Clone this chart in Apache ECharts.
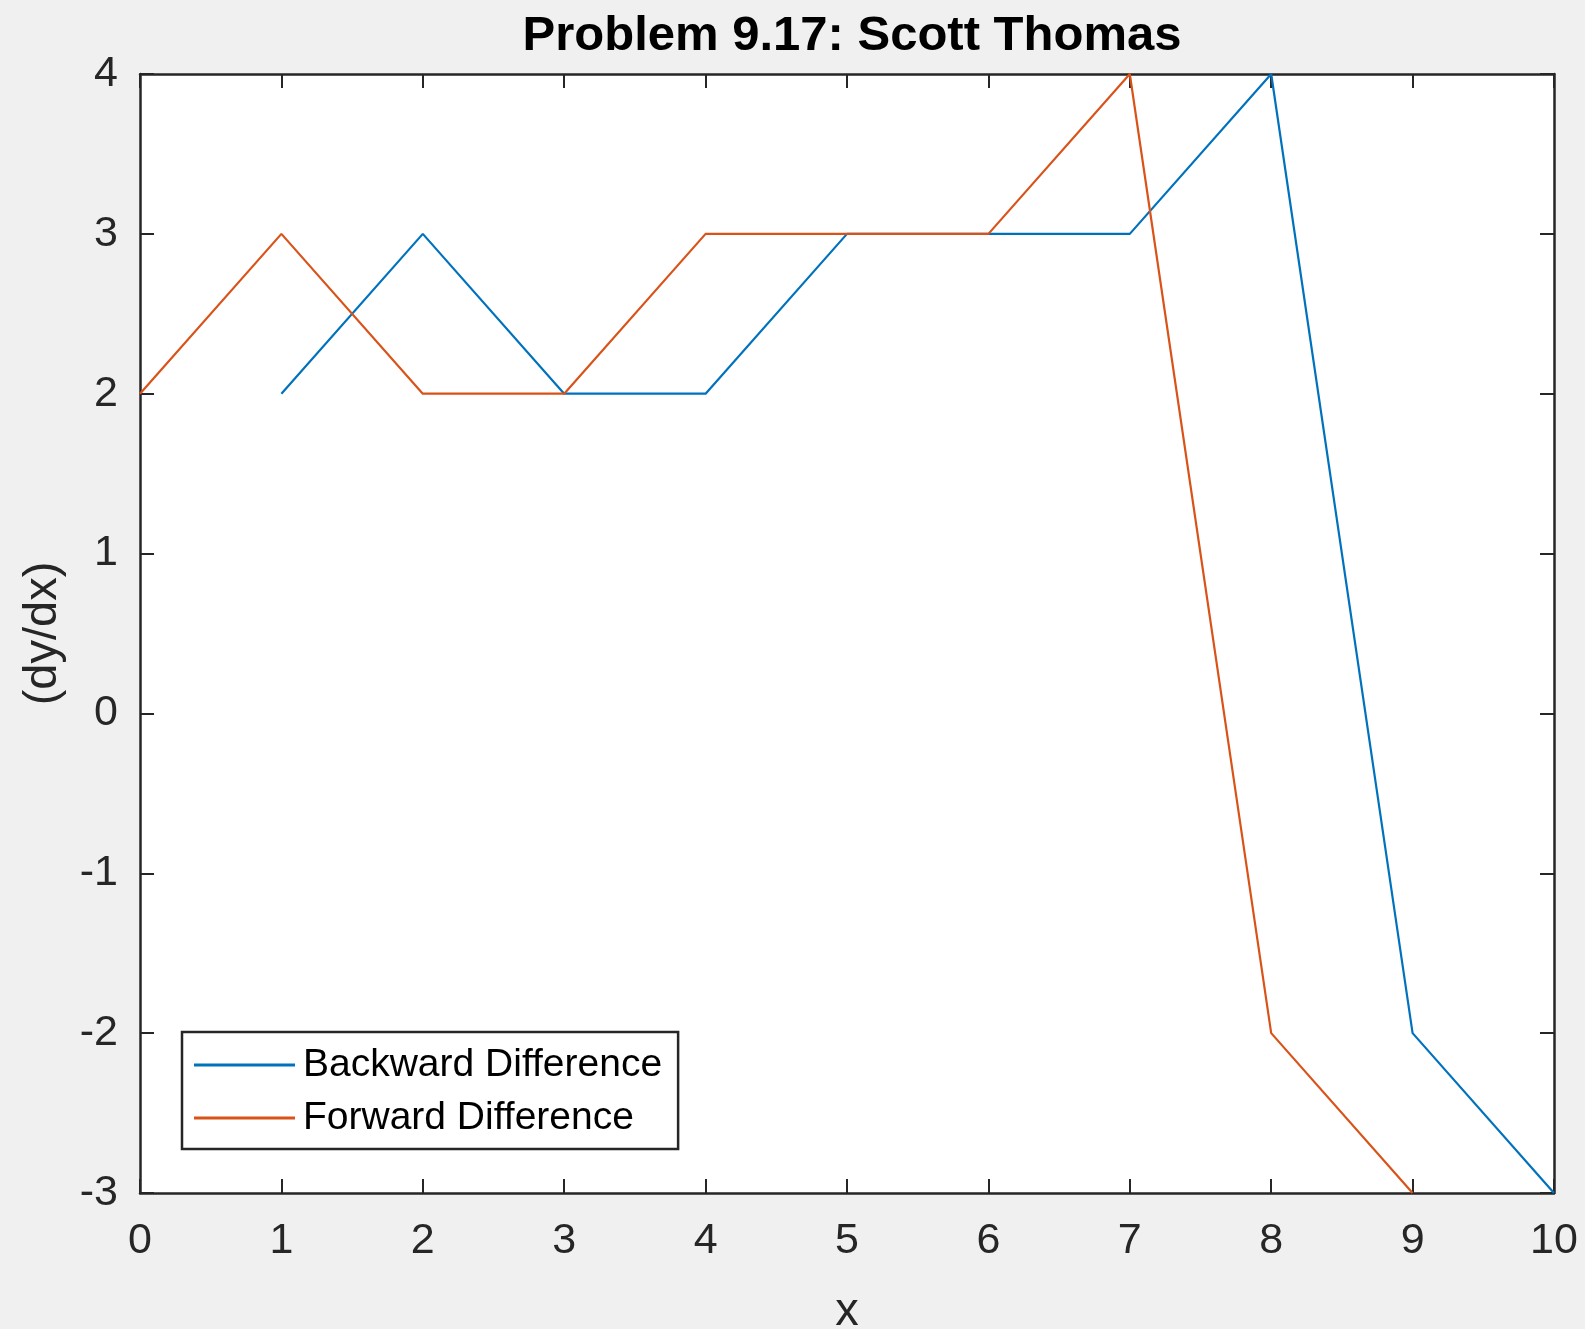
<!DOCTYPE html>
<html>
<head>
<meta charset="utf-8">
<title>Problem 9.17</title>
<script src="https://cdn.jsdelivr.net/npm/echarts@6/dist/echarts.min.js"></script>
<style>
  html, body { margin: 0; padding: 0; background: #f0f0f0; }
  #chart { width: 1585px; height: 1329px; }
</style>
</head>
<body>
<div id="chart"></div>
<script>
// Derivative estimates of y with respect to x
const backwardX = [1, 2, 3, 4, 5, 6, 7, 8, 9, 10];
const backwardY = [2, 3, 2, 2, 3, 3, 3, 4, -2, -3];
const forwardX = [0, 1, 2, 3, 4, 5, 6, 7, 8, 9];
const forwardY = [2, 3, 2, 2, 3, 3, 3, 4, -2, -3];

const seriesNames = ['Backward Difference', 'Forward Difference'];
const titleText = 'Problem 9.17: Scott Thomas';

const FONT = '"Liberation Sans", Arial, Helvetica, sans-serif';
const AXIS_COLOR = '#262626';

const pairs = (xs, ys) => xs.map((x, i) => [x, ys[i]]);

const chart = echarts.init(document.getElementById('chart'), null, { renderer: 'canvas' });

const tickStyle = { show: true, inside: true, length: 14, lineStyle: { color: AXIS_COLOR, width: 2 } };
const lineStyleAxis = { show: true, onZero: false, lineStyle: { color: AXIS_COLOR, width: 2.5 } };

chart.setOption({
  backgroundColor: '#f0f0f0',
  animation: false,
  title: {
    text: titleText,
    left: 847,
    top: 7,
    textAlign: 'center',
    textStyle: { fontFamily: FONT, fontSize: 49, fontWeight: 'bold', color: '#000' }
  },
  grid: {
    left: 140, right: 31, top: 74, bottom: 136,
    outerBoundsMode: 'none',
    containLabel: false,
    show: true, backgroundColor: '#ffffff', borderWidth: 0
  },
  legend: {
    orient: 'vertical',
    left: 182, top: 1032,
    backgroundColor: '#ffffff',
    borderColor: AXIS_COLOR, borderWidth: 2.5, borderRadius: 0,
    padding: [13, 16, 11, 12],
    itemGap: 13,
    itemWidth: 101, itemHeight: 3,
    icon: 'rect',
    textStyle: { fontFamily: FONT, fontSize: 39, color: '#000', lineHeight: 40, padding: [0, 0, 0, 3] },
    data: seriesNames
  },
  xAxis: [
    {
      type: 'value', min: 0, max: 10, interval: 1,
      name: 'x', nameLocation: 'middle', nameGap: 96,
      nameTextStyle: { fontFamily: FONT, fontSize: 47, color: AXIS_COLOR },
      axisLine: lineStyleAxis, axisTick: tickStyle, splitLine: { show: false },
      axisLabel: { fontFamily: FONT, fontSize: 43, color: AXIS_COLOR, margin: 27 }
    },
    {
      type: 'value', min: 0, max: 10, interval: 1, position: 'top',
      axisLine: lineStyleAxis, axisTick: tickStyle, splitLine: { show: false },
      axisLabel: { show: false }
    }
  ],
  yAxis: [
    {
      type: 'value', min: -3, max: 4, interval: 1,
      name: '(dy/dx)', nameLocation: 'middle', nameGap: 73, nameRotate: 90,
      nameTextStyle: { fontFamily: FONT, fontSize: 47, color: AXIS_COLOR },
      axisLine: lineStyleAxis, axisTick: tickStyle, splitLine: { show: false },
      axisLabel: { fontFamily: FONT, fontSize: 43, color: AXIS_COLOR, margin: 22 }
    },
    {
      type: 'value', min: -3, max: 4, interval: 1, position: 'right',
      axisLine: lineStyleAxis, axisTick: tickStyle, splitLine: { show: false },
      axisLabel: { show: false }
    }
  ],
  series: [
    {
      name: seriesNames[0], type: 'line', xAxisIndex: 0, yAxisIndex: 0,
      data: pairs(backwardX, backwardY),
      showSymbol: false, symbol: 'none', clip: false,
      color: '#0072BD', lineStyle: { color: '#0072BD', width: 2.2 }
    },
    {
      name: seriesNames[1], type: 'line', xAxisIndex: 0, yAxisIndex: 0,
      data: pairs(forwardX, forwardY),
      showSymbol: false, symbol: 'none', clip: false,
      color: '#D95319', lineStyle: { color: '#D95319', width: 2.2 }
    }
  ]
});
</script>
</body>
</html>
